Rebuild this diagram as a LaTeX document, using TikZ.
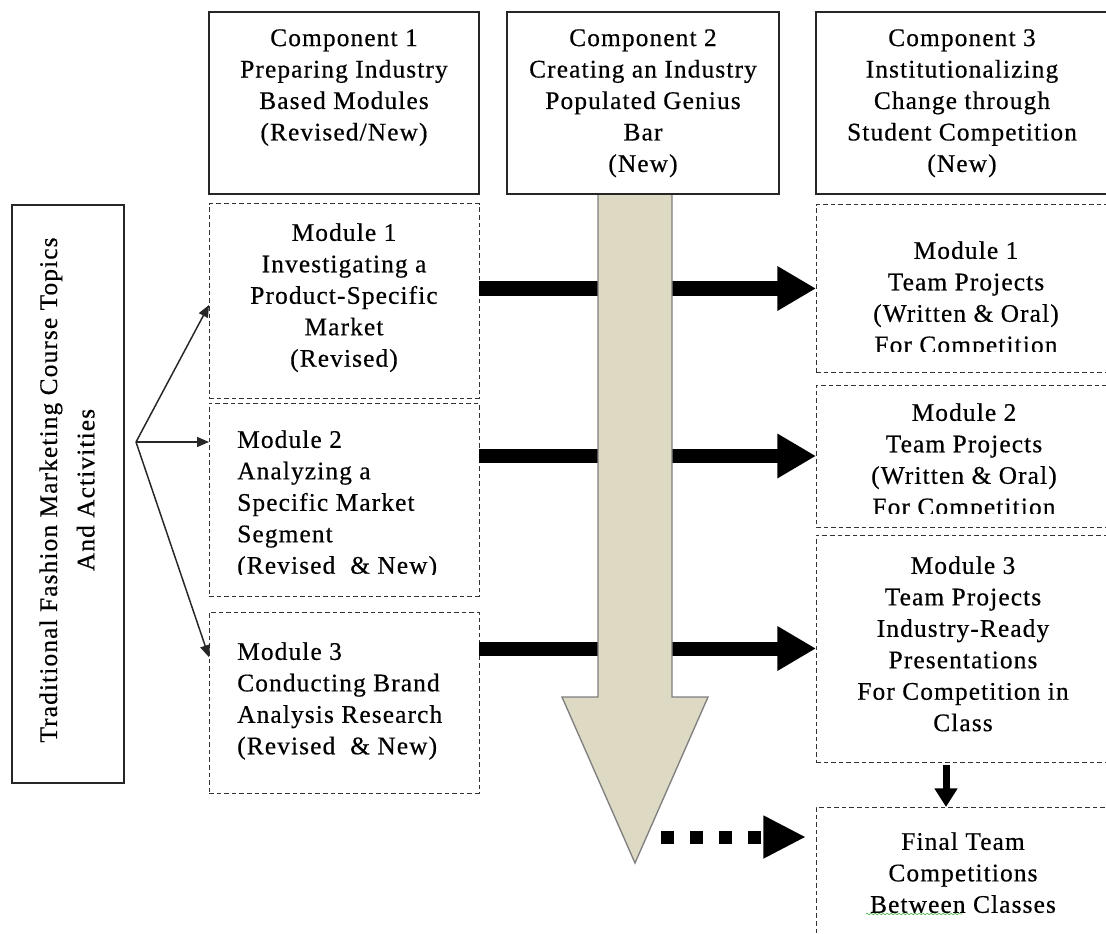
\documentclass[tikz,border=0pt]{standalone}
\usepackage{fontspec}
\setmainfont{Liberation Serif}[LetterSpace=4.5,FakeBold=0.5]
\usetikzlibrary{arrows.meta,decorations.pathmorphing}
\definecolor{beige}{HTML}{DDD9C3}
\definecolor{beigeline}{HTML}{7F7F7F}
\definecolor{spell}{HTML}{5CB85C}
\begin{document}
\begin{tikzpicture}[x=0.75pt,y=-0.75pt,
  boxsize/.style 2 args={minimum width=#1*0.75pt, minimum height=#2*0.75pt},
  solidbox/.style={draw=black!85, line width=1.1pt, inner sep=0pt, outer sep=0pt, anchor=north west},
  dashbox/.style={draw=black!80, line width=0.75pt, dash pattern=on 3.5pt off 2.2pt, inner sep=0pt, outer sep=0pt, anchor=north west},
  txt/.style={inner sep=0pt, anchor=north, align=center, font=\fontsize{19pt}{23.6pt}\selectfont},
  ltxt/.style={inner sep=0pt, anchor=north west, align=left, font=\fontsize{19pt}{23.6pt}\selectfont},
  fanarrow/.style={draw=black!85, line width=1.1pt, -{Triangle[length=9pt,width=7.5pt]}},
  bigflow/.style={line width=10.5pt, -{Triangle[length=29pt,width=31.5pt]}},
  dotflow/.style={line width=9.75pt, dash pattern=on 9.75pt off 12pt, -{Triangle[length=32pt,width=30pt]}},
  downflow/.style={line width=5.25pt, -{Triangle[length=14pt,width=16.5pt]}},
  bigarrow/.style={fill=beige, draw=beigeline, line width=1pt, line join=miter}
]
\useasboundingbox (0,0) rectangle (1106,934);
\clip (0,0) rectangle (1106,934);
\fill[white] (0,0) rectangle (1106,934);

% boxes
\node[solidbox, boxsize={112}{578}] (left) at (12,205) {};
\node[solidbox, boxsize={270}{182}] (c1) at (209,12) {};
\node[solidbox, boxsize={272}{182}] (c2) at (507,12) {};
\node[solidbox, boxsize={310}{182}] (c3) at (816,12) {};
\node[dashbox, boxsize={270}{194}] (lm1) at (209,204) {};
\node[dashbox, boxsize={270}{193}] (lm2) at (209,403) {};
\node[dashbox, boxsize={270}{181}] (lm3) at (209,612) {};
\node[dashbox, boxsize={310}{167}] (rm1) at (816,205) {};
\node[dashbox, boxsize={310}{142}] (rm2) at (816,385) {};
\node[dashbox, boxsize={310}{227}] (rm3) at (816,535) {};
\node[dashbox, boxsize={310}{140}] (fin) at (816,807) {};

% thick arrows (behind big arrow)
\draw[bigflow] (lm1.east |- rm1.west) -- (rm1.west);
\draw[bigflow] (lm2.east |- rm2.west) -- (rm2.west);
\draw[bigflow] (lm3.east |- rm3.west) -- (rm3.west);

% big downward arrow
\draw[bigarrow] (598,194) -- (672,194) -- (672,697) -- (708,697) -- (635,863) -- (562,697) -- (598,697) -- cycle;
\draw[draw=black!85, line width=1.1pt] (c2.south west) -- (c2.south east);

% dotted arrow
\coordinate (dstart) at (661,837);
\draw[dotflow, shorten >=7.5pt] (dstart) -- (fin.west |- dstart);

% down arrow
\coordinate (dx) at (946,0);
\draw[downflow, shorten <=2pt] (rm3.south -| dx) -- (fin.north -| dx);

% fan arrows
\coordinate (fan) at (136,442);
\draw[fanarrow] (fan) -- ([yshift=-3pt]lm1.west);
\draw[fanarrow] (fan) -- (lm2.west |- fan);
\draw[fanarrow] (fan) -- ([yshift=34pt]lm3.west);

% texts
\node[txt, rotate=90, anchor=center, font=\fontsize{19pt}{28pt}\selectfont] (lefttext) at (67,490)
  {Traditional Fashion Marketing Course Topics\\And Activities};
\node[txt] (c1t) at (344,29) {Component 1\\Preparing Industry\\Based Modules\\(Revised/New)};
\node[txt] (c2t) at (643,29) {Component 2\\Creating an Industry\\Populated Genius\\Bar\\(New)};
\node[txt] (c3t) at (962,29) {Component 3\\Institutionalizing\\Change through\\Student Competition\\(New)};
\node[txt] (lm1t) at (344,223) {Module 1\\Investigating a\\Product-Specific\\Market\\(Revised)};
\begin{scope}
\clip (210,404) rectangle (478,574);
\node[ltxt] (lm2t) at (237,430) {Module 2\\Analyzing a\\Specific Market\\Segment\\(Revised\ \ \& New)};
\end{scope}
\node[ltxt] (lm3t) at (237,642) {Module 3\\Conducting Brand\\Analysis Research\\(Revised\ \ \& New)};
\begin{scope}
\clip (817,206) rectangle (1106,351);
\node[txt] (rm1t) at (966,241) {Module 1\\Team Projects\\(Written \& Oral)\\For Competition};
\end{scope}
\begin{scope}
\clip (817,386) rectangle (1106,513);
\node[txt] (rm2t) at (964,403) {Module 2\\Team Projects\\(Written \& Oral)\\For Competition};
\end{scope}
\node[txt] (rm3t) at (963,556) {Module 3\\Team Projects\\Industry-Ready\\Presentations\\For Competition in\\Class};
\node[txt] (fint) at (963,832) {Final Team\\Competitions\\Between Classes};
\draw[spell, line width=0.5pt, decorate, decoration={snake, amplitude=0.6pt, segment length=3pt}] (866,914) -- (962,914);
\end{tikzpicture}
\end{document}
